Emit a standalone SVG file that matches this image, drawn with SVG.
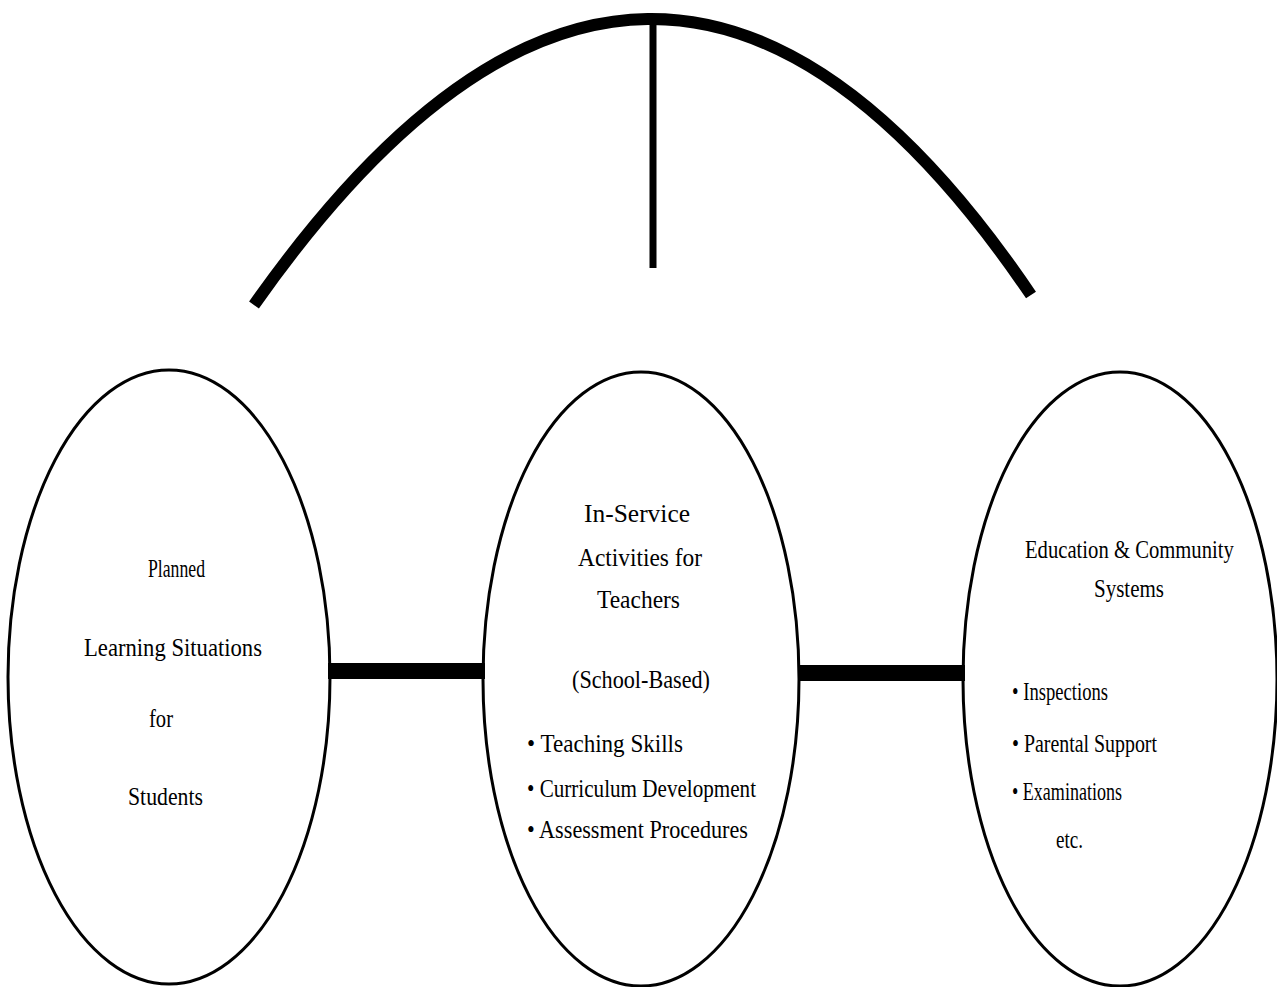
<svg xmlns="http://www.w3.org/2000/svg" width="1277" height="987" viewBox="0 0 1277 987">
<style>
.t{font-family:"Liberation Serif","DejaVu Serif",serif;font-size:26px;fill:#000;}
.e{fill:none;stroke:#000;stroke-width:3;}
.bar{fill:#000;}
</style>
<rect width="1277" height="987" fill="#fff"/>
<g id="connectors">
<path d="M254,305 Q653,-262 1031,295" fill="none" stroke="#000" stroke-width="12"/>
<line x1="653" y1="24" x2="653" y2="268" stroke="#000" stroke-width="7"/>
<rect class="bar" x="328" y="663" width="157" height="16"/>
<rect class="bar" x="800" y="665" width="165" height="16"/>
</g>
<g id="node-students">
<ellipse class="e" cx="169" cy="677" rx="161" ry="307"/>
<text class="t" x="148" y="577" textLength="57" lengthAdjust="spacingAndGlyphs">Planned</text>
<text class="t" x="84" y="656" textLength="178" lengthAdjust="spacingAndGlyphs">Learning Situations</text>
<text class="t" x="149" y="727" textLength="24" lengthAdjust="spacingAndGlyphs">for</text>
<text class="t" x="128" y="805" textLength="75" lengthAdjust="spacingAndGlyphs">Students</text>
</g>
<g id="node-teachers">
<ellipse class="e" cx="641" cy="679" rx="158" ry="307"/>
<text class="t" x="584" y="522" textLength="106" lengthAdjust="spacingAndGlyphs">In-Service</text>
<text class="t" x="578" y="566" textLength="124" lengthAdjust="spacingAndGlyphs">Activities for</text>
<text class="t" x="597" y="608" textLength="83" lengthAdjust="spacingAndGlyphs">Teachers</text>
<text class="t" x="572" y="688" textLength="138" lengthAdjust="spacingAndGlyphs">(School-Based)</text>
<text class="t" x="527" y="752" textLength="156" lengthAdjust="spacingAndGlyphs">• Teaching Skills</text>
<text class="t" x="527" y="797" textLength="229" lengthAdjust="spacingAndGlyphs">• Curriculum Development</text>
<text class="t" x="527" y="838" textLength="221" lengthAdjust="spacingAndGlyphs">• Assessment Procedures</text>
</g>
<g id="node-community">
<ellipse class="e" cx="1120" cy="679" rx="157" ry="307"/>
<text class="t" transform="translate(1025,558) scale(0.795,1)" x="0" y="0">Education &amp; Community</text>
<text class="t" x="1094" y="597" textLength="70" lengthAdjust="spacingAndGlyphs">Systems</text>
<text class="t" x="1012" y="700" textLength="96" lengthAdjust="spacingAndGlyphs">• Inspections</text>
<text class="t" x="1012" y="752" textLength="145" lengthAdjust="spacingAndGlyphs">• Parental Support</text>
<text class="t" x="1012" y="800" textLength="110" lengthAdjust="spacingAndGlyphs">• Examinations</text>
<text class="t" x="1056" y="848" textLength="27" lengthAdjust="spacingAndGlyphs">etc.</text>
</g>
</svg>
